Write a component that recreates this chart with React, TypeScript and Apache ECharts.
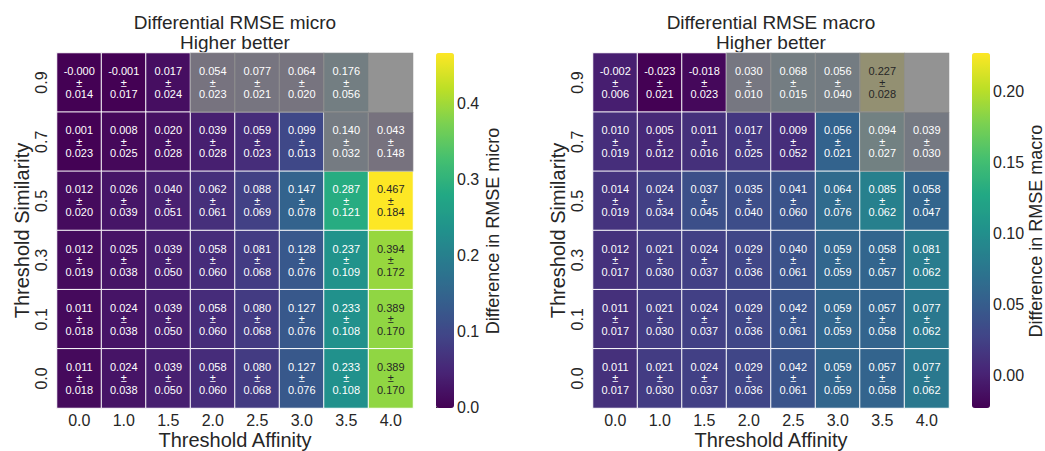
import React, { useEffect, useRef } from "react";
import * as echarts from "echarts";

// Categories
const affinity = ["0.0", "1.0", "1.5", "2.0", "2.5", "3.0", "3.5", "4.0"];
const similarity = ["0.9", "0.7", "0.5", "0.3", "0.1", "0.0"]; // top to bottom

// Micro means / stds (rows top→bottom: 0.9, 0.7, 0.5, 0.3, 0.1, 0.0)
const microMean: (number | null)[][] = [
  [-0.0004, -0.001, 0.017, 0.054, 0.077, 0.064, 0.176, null],
  [0.001, 0.008, 0.02, 0.039, 0.059, 0.099, 0.14, 0.043],
  [0.012, 0.026, 0.04, 0.062, 0.088, 0.147, 0.287, 0.467],
  [0.012, 0.025, 0.039, 0.058, 0.081, 0.128, 0.237, 0.394],
  [0.011, 0.024, 0.039, 0.058, 0.08, 0.127, 0.233, 0.389],
  [0.011, 0.024, 0.039, 0.058, 0.08, 0.127, 0.233, 0.389],
];
const microStd: (number | null)[][] = [
  [0.014, 0.017, 0.024, 0.023, 0.021, 0.02, 0.056, null],
  [0.023, 0.025, 0.028, 0.028, 0.023, 0.013, 0.032, 0.148],
  [0.02, 0.039, 0.051, 0.061, 0.069, 0.078, 0.121, 0.184],
  [0.019, 0.038, 0.05, 0.06, 0.068, 0.076, 0.109, 0.172],
  [0.018, 0.038, 0.05, 0.06, 0.068, 0.076, 0.108, 0.17],
  [0.018, 0.038, 0.05, 0.06, 0.068, 0.076, 0.108, 0.17],
];

// Macro means / stds
const macroMean: (number | null)[][] = [
  [-0.002, -0.023, -0.018, 0.03, 0.068, 0.056, 0.227, null],
  [0.01, 0.005, 0.011, 0.017, 0.009, 0.056, 0.094, 0.039],
  [0.014, 0.024, 0.037, 0.035, 0.041, 0.064, 0.085, 0.058],
  [0.012, 0.021, 0.024, 0.029, 0.04, 0.059, 0.058, 0.081],
  [0.011, 0.021, 0.024, 0.029, 0.042, 0.059, 0.057, 0.077],
  [0.011, 0.021, 0.024, 0.029, 0.042, 0.059, 0.057, 0.077],
];
const macroStd: (number | null)[][] = [
  [0.006, 0.021, 0.023, 0.01, 0.015, 0.04, 0.028, null],
  [0.019, 0.012, 0.016, 0.025, 0.052, 0.021, 0.027, 0.03],
  [0.019, 0.034, 0.045, 0.04, 0.06, 0.076, 0.062, 0.047],
  [0.017, 0.03, 0.037, 0.036, 0.061, 0.059, 0.057, 0.062],
  [0.017, 0.03, 0.037, 0.036, 0.061, 0.059, 0.058, 0.062],
  [0.017, 0.03, 0.037, 0.036, 0.061, 0.059, 0.058, 0.062],
];

// Masked (greyed) cells: [column index, row index]
const maskedCells: [number, number][] = [
  [3, 0], [4, 0], [5, 0], [6, 0], [7, 0], [6, 1], [7, 1],
];

const microTicks = [0, 0.1, 0.2, 0.3, 0.4];
const macroTicks = [0, 0.05, 0.1, 0.15, 0.2];

const viridis = [
  "#440154", "#482475", "#414487", "#355f8d", "#2a788e", "#21918c",
  "#22a884", "#44bf70", "#7ad151", "#bddf26", "#fde725",
];

const FONT = "Liberation Sans, Arial, sans-serif";
const TXT = "#262626";
const MASK = "rgba(128,128,128,0.85)";

function range(m: (number | null)[][]) {
  let lo = Infinity, hi = -Infinity;
  m.forEach((r) => r.forEach((v) => { if (v != null) { lo = Math.min(lo, v); hi = Math.max(hi, v); } }));
  return [lo, hi];
}

function baseData(mean: (number | null)[][]) {
  const out: any[] = [];
  mean.forEach((row, r) => row.forEach((v, c) => { if (v != null) out.push([c, r, v]); }));
  return out;
}

function labelData(mean: (number | null)[][], std: (number | null)[][], lo: number, hi: number) {
  const out: any[] = [];
  mean.forEach((row, r) => row.forEach((v, c) => {
    if (v == null) return;
    const t = (v - lo) / (hi - lo);
    out.push({ value: [c, r, v, std[r][c]], label: { color: t > 0.7 ? TXT : "#ffffff" } });
  }));
  return out;
}

export default function App() {
  const ref = useRef<HTMLDivElement>(null);
  useEffect(() => {
    if (!ref.current) return;
    const chart = echarts.init(ref.current, null, { renderer: "svg" });
    const [miLo, miHi] = range(microMean);
    const [maLo, maHi] = range(macroMean);

    const gridTop = 53, gridH = 355, gridW = 356;
    const g = (left: number, width: number) => ({
      left, top: gridTop, width, height: gridH, outerBoundsMode: "none", containLabel: false,
    });
    const grids = [g(57, gridW), g(593, gridW), g(436, 18), g(972, 18)];

    const catX = (gi: number) => ({
      type: "category", gridIndex: gi, data: affinity,
      axisLine: { show: false }, axisTick: { show: false }, splitLine: { show: false },
      axisLabel: { fontSize: 16, color: TXT, fontFamily: FONT, margin: 4 },
      name: "Threshold Affinity", nameLocation: "middle", nameGap: 32, nameMoveOverlap: false,
      nameTextStyle: { fontSize: 20, color: TXT, fontFamily: FONT, verticalAlign: "middle", lineHeight: 20 },
    });
    const catY = (gi: number) => ({
      type: "category", gridIndex: gi, data: similarity, inverse: true,
      axisLine: { show: false }, axisTick: { show: false }, splitLine: { show: false },
      axisLabel: { fontSize: 16, color: TXT, fontFamily: FONT, rotate: 90, margin: 8 },
      name: "Threshold Similarity", nameLocation: "middle", nameGap: 25,
      nameTextStyle: { fontSize: 20, color: TXT, fontFamily: FONT },
    });
    const cbX = (gi: number) => ({ type: "value", gridIndex: gi, show: false, min: 0, max: 1 });
    const cbY = (gi: number, lo: number, hi: number, ticks: number[], dec: number) => ({
      type: "value", gridIndex: gi, position: "right", min: lo, max: hi,
      axisLine: { show: false },
      splitLine: { show: false },
      axisTick: { show: true, length: 3, lineStyle: { color: TXT }, customValues: ticks },
      axisLabel: {
        fontSize: 16, color: TXT, fontFamily: FONT, margin: 3,
        customValues: ticks, formatter: (v: number) => v.toFixed(dec),
      },
    });

    const labelSeries = (xi: number, data: any[]) => ({
      type: "heatmap", xAxisIndex: xi, yAxisIndex: xi, data, z: 5,
      itemStyle: { borderWidth: 0 },
      label: {
        show: true, fontSize: 11, lineHeight: 11.5, fontFamily: FONT,
        formatter: (p: any) => `${p.value[2].toFixed(3)}\n±\n${p.value[3].toFixed(3)}`,
      },
      emphasis: { disabled: true }, silent: true,
    });
    const maskSeries = (xi: number) => ({
      type: "heatmap", xAxisIndex: xi, yAxisIndex: xi, z: 4,
      data: maskedCells.map(([c, r]) => [c, r, 0]),
      itemStyle: { borderWidth: 0 },
      emphasis: { disabled: true }, silent: true,
    });
    const mainSeries = (xi: number, data: any[]) => ({
      type: "heatmap", xAxisIndex: xi, yAxisIndex: xi, data, z: 2,
      itemStyle: { borderColor: "#ffffff", borderWidth: 1 },
      emphasis: { disabled: true }, silent: true,
    });

    chart.setOption({
      animation: false,
      backgroundColor: "#ffffff",
      textStyle: { fontFamily: FONT },
      grid: grids,
      xAxis: [catX(0), catX(1), cbX(2), cbX(3)],
      yAxis: [catY(0), catY(1), cbY(2, miLo, miHi, microTicks, 1), cbY(3, maLo, maHi, macroTicks, 2)],
      visualMap: [
        {
          type: "continuous", seriesIndex: 0, min: miLo, max: miHi, calculable: false,
          left: 436, top: gridTop, itemWidth: 18, itemHeight: gridH, padding: 0,
          inRange: { color: viridis }, hoverLink: false, text: null,
        },
        {
          type: "continuous", seriesIndex: 3, min: maLo, max: maHi, calculable: false,
          left: 972, top: gridTop, itemWidth: 18, itemHeight: gridH, padding: 0,
          inRange: { color: viridis }, hoverLink: false, text: null,
        },
        {
          type: "continuous", show: false, seriesIndex: [1, 4], min: -1, max: 1,
          inRange: { color: [MASK, MASK] },
        },
        {
          type: "continuous", show: false, seriesIndex: [2, 5], min: -1, max: 1,
          inRange: { color: ["rgba(0,0,0,0)", "rgba(0,0,0,0)"] },
        },
      ],
      series: [
        mainSeries(0, baseData(microMean)),
        maskSeries(0),
        labelSeries(0, labelData(microMean, microStd, miLo, miHi)),
        mainSeries(1, baseData(macroMean)),
        maskSeries(1),
        labelSeries(1, labelData(macroMean, macroStd, maLo, maHi)),
      ],
      graphic: [
        {
          type: "text", x: 235, y: 32,
          style: {
            text: "Differential RMSE micro\nHigher better", align: "center", verticalAlign: "middle",
            fontSize: 19, lineHeight: 20, fill: TXT, fontFamily: FONT,
          },
        },
        {
          type: "text", x: 771, y: 32,
          style: {
            text: "Differential RMSE macro\nHigher better", align: "center", verticalAlign: "middle",
            fontSize: 19, lineHeight: 20, fill: TXT, fontFamily: FONT,
          },
        },
        {
          type: "text", x: 493, y: 231, rotation: Math.PI / 2,
          style: {
            text: "Difference in RMSE micro", align: "center", verticalAlign: "middle",
            fontSize: 18, fill: TXT, fontFamily: FONT,
          },
        },
        {
          type: "text", x: 1036, y: 231, rotation: Math.PI / 2,
          style: {
            text: "Difference in RMSE macro", align: "center", verticalAlign: "middle",
            fontSize: 18, fill: TXT, fontFamily: FONT,
          },
        },
      ],
    });
    return () => chart.dispose();
  }, []);
  return (
    <div
      ref={ref}
      style={{ position: "absolute", left: 0, top: 0, width: 1045, height: 451 }}
    />
  );
}
